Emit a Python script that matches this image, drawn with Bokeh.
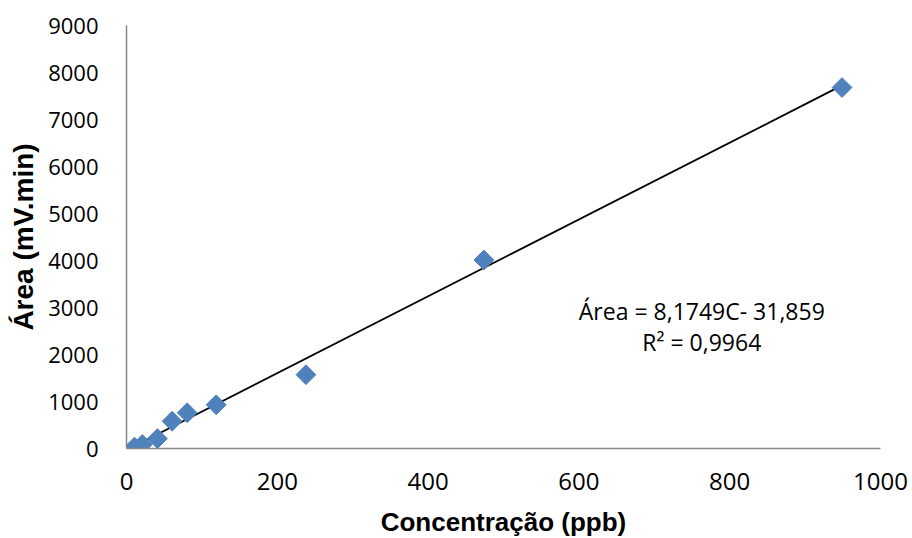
import numpy as np
from bokeh.plotting import figure
from bokeh.models import Range1d, Label, FixedTicker, ColumnDataSource
from bokeh.embed import file_html
from bokeh.resources import INLINE

# Data
concentracao = [10.5, 21, 41, 60.5, 80.5, 119, 238, 474, 949]
area = [30, 85, 210, 580, 760, 930, 1570, 4010, 7680]
slope = 8.1749
intercept = -31.859
eq_text = "Área = 8,1749C- 31,859"
r2_text = "R² = 0,9964"
x_ticks = [0, 200, 400, 600, 800, 1000]
y_ticks = [0, 1000, 2000, 3000, 4000, 5000, 6000, 7000, 8000, 9000]

p = figure(frame_width=754, frame_height=423, output_backend="svg",
           toolbar_location=None, x_range=Range1d(0, 1000), y_range=Range1d(0, 9000),
           min_border_left=126, min_border_right=30, min_border_top=25, min_border_bottom=90)
p.outline_line_color = None
p.xgrid.grid_line_color = None
p.ygrid.grid_line_color = None

for ax in (p.xaxis[0], p.yaxis[0]):
    ax.axis_line_color = "#868686"
    ax.axis_line_width = 1.5
    ax.major_tick_line_color = None
    ax.minor_tick_line_color = None
    ax.major_tick_out = 0
    ax.major_tick_in = 0
    ax.minor_tick_out = 0
    ax.minor_tick_in = 0
    ax.major_label_text_color = "black"
    ax.axis_label_text_color = "black"
    ax.axis_label_text_font_style = "bold"

p.xaxis.ticker = FixedTicker(ticks=x_ticks)
p.yaxis.ticker = FixedTicker(ticks=y_ticks)
p.xaxis.major_label_text_font = "Open Sans"
p.xaxis.major_label_text_font_size = "24px"
p.xaxis.major_label_standoff = 24
p.yaxis.major_label_text_font = "Open Sans"
p.yaxis.major_label_text_font_size = "22px"
p.yaxis.major_label_standoff = 28

p.xaxis.axis_label = "Concentração (ppb)"
p.xaxis.axis_label_text_font = "Liberation Sans"
p.xaxis.axis_label_text_font_size = "26px"
p.xaxis.axis_label_standoff = 14
p.yaxis.axis_label = "Área (mV.min)"
p.yaxis.axis_label_text_font = "Liberation Sans"
p.yaxis.axis_label_text_font_size = "28px"
p.yaxis.axis_label_standoff = 6

# trend line
xs = np.array([min(concentracao), max(concentracao)])
p.line(xs, slope * xs + intercept, line_color="black", line_width=1.8)

src = ColumnDataSource(dict(x=concentracao, y=area))
p.scatter("x", "y", source=src, marker="square", size=14, angle=np.pi / 4,
          fill_color="#4F81BD", line_color="#4F81BD")

p.add_layout(Label(x=763, y=2915, text=eq_text, text_align="center", text_baseline="middle",
                   text_font="Open Sans", text_font_size="23px", text_color="black"))
p.add_layout(Label(x=763, y=2260, text=r2_text, text_align="center", text_baseline="middle",
                   text_font="Open Sans", text_font_size="23px", text_color="black"))

open("out.html", "w").write(file_html(p, INLINE))
